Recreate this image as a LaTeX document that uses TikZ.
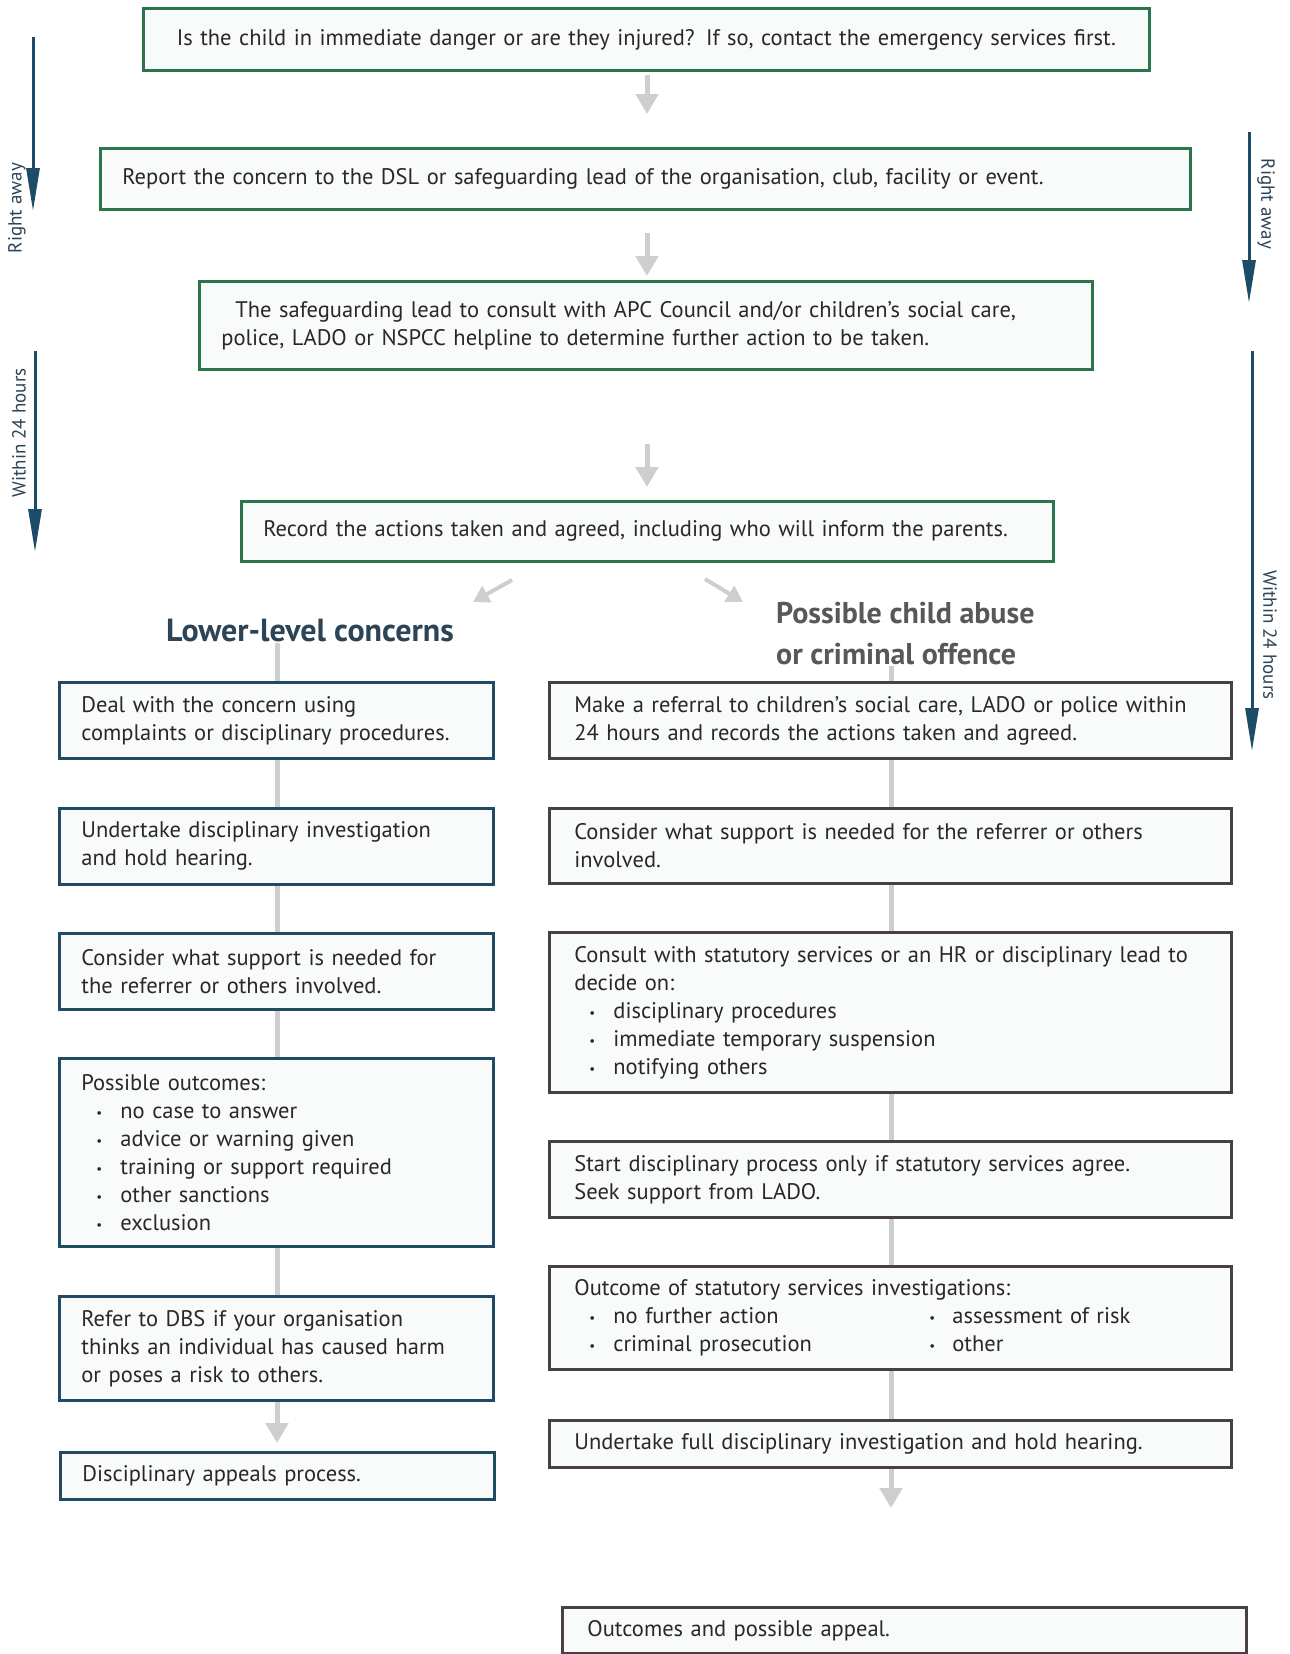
\documentclass[tikz,border=0pt]{standalone}
\usepackage{fontspec}
\setmainfont{PT Sans}
\usetikzlibrary{arrows.meta}
\definecolor{boxgreen}{RGB}{42,118,74}
\definecolor{boxblue}{RGB}{33,74,100}
\definecolor{boxright}{RGB}{72,64,70}
\definecolor{txt}{RGB}{40,40,40}
\definecolor{arrgray}{RGB}{205,207,207}
\definecolor{sideblue}{RGB}{28,76,104}
\definecolor{headblue}{RGB}{44,68,86}
\definecolor{headgray}{RGB}{88,88,88}
\definecolor{boxfill}{RGB}{249,250,250}
\newcommand{\bulglyph}{{\fontsize{13}{13}\selectfont\raisebox{1pt}{•}}}
\newcommand{\bulitem}[1]{\hspace*{15pt}\makebox[24pt][l]{\bulglyph}#1}
\begin{document}
\begin{tikzpicture}[x=1pt,y=-1pt,
  base/.style={draw, line width=2.8pt, fill=boxfill, text=txt,
    font=\fontsize{22.5}{28}\selectfont, align=left, anchor=north west,
    inner xsep=22pt, inner ysep=0pt},
  gbox/.style={base, draw=boxgreen},
  lbox/.style={base, draw=boxblue},
  rbox/.style={base, draw=boxright, inner xsep=25pt},
  grayline/.style={draw=arrgray, line width=5pt},
  grayarrow/.style={grayline, -{Triangle[width=22pt,length=20pt]}},
  sidearrow/.style={draw=sideblue, line width=3pt, -{Triangle[width=13pt,length=43pt]}},
  sidelabel/.style={text=headblue, font=\fontsize{19}{22}\selectfont, inner sep=0pt},
  headl/.style={font=\fontsize{32}{41}\selectfont\bfseries, inner sep=0pt},
  headr/.style={font=\fontsize{30}{41}\selectfont\bfseries, inner sep=0pt}
]
\useasboundingbox (0,0) rectangle (1290,1654);
\fill[white] (0,0) rectangle (1290,1654);

% column guides
\coordinate (colM) at (647,0);
\coordinate (colL) at (277,0);
\coordinate (colR) at (891,0);

% top green boxes
\node[gbox, align=center, minimum width=1006pt, minimum height=62pt, text width=962pt] (b1) at (142,7)
  {Is the child in immediate danger or are they injured? If so, contact the emergency services first.};
\node[gbox, minimum width=1090pt, minimum height=61pt, text width=1046pt] (b2) at (99,147)
  {Report the concern to the DSL or safeguarding lead of the organisation, club, facility or event.};
\node[gbox, minimum width=893pt, minimum height=88pt, text width=849pt] (b3) at (198,280)
  {\hspace*{14pt}The safeguarding lead to consult with APC Council and/or children’s social care,\\police, LADO or NSPCC helpline to determine further action to be taken.};
\node[gbox, minimum width=812pt, minimum height=60pt, text width=768pt] (b4) at (240,500)
  {Record the actions taken and agreed, including who will inform the parents.};

\draw[grayarrow, shorten <=3pt, shorten >=33pt] (b1.south -| colM) -- (b2.north -| colM);
\draw[grayarrow, shorten <=22pt, shorten >=4pt] (b2.south -| colM) -- (b3.north -| colM);
\draw[grayarrow, shorten <=73pt, shorten >=13pt] (b3.south -| colM) -- (b4.north -| colM);

% headings
\node[headl, text=headblue] (lhead) at (310,631) {Lower-level concerns};
\node[headr, text=headgray, align=left, anchor=west] (rhead) at (776,634) {Possible child abuse\\or criminal offence};

% diagonal arrows
\coordinate (dl1) at (512,580); \coordinate (dl2) at (473,602);
\coordinate (dr1) at (705,579); \coordinate (dr2) at (743,602);
\draw[grayarrow, line width=4pt, -{Triangle[width=18pt,length=16pt]}] (dl1) -- (dl2);
\draw[grayarrow, line width=4pt, -{Triangle[width=18pt,length=16pt]}] (dr1) -- (dr2);

% left column
\node[lbox, minimum width=434pt, minimum height=76pt, text width=390pt] (L1) at (58,681)
  {Deal with the concern using\\complaints or disciplinary procedures.};
\node[lbox, minimum width=434pt, minimum height=76pt, text width=390pt] (L2) at (58,807)
  {Undertake disciplinary investigation\\and hold hearing.};
\node[lbox, minimum width=434pt, minimum height=76pt, text width=390pt] (L3) at (58,932)
  {Consider what support is needed for\\the referrer or others involved.};
\node[lbox, minimum width=434pt, minimum height=188pt, text width=390pt] (L4) at (58,1057)
  {Possible outcomes:\\\bulitem{no case to answer}\\\bulitem{advice or warning given}\\\bulitem{training or support required}\\\bulitem{other sanctions}\\\bulitem{exclusion}};
\node[lbox, minimum width=434pt, minimum height=104pt, text width=390pt] (L5) at (58,1295)
  {Refer to DBS if your organisation\\thinks an individual has caused harm\\or poses a risk to others.};
\node[lbox, minimum width=434pt, minimum height=47pt, text width=390pt] (L6) at (59,1451)
  {Disciplinary appeals process.};

\draw[grayline] (lhead.south -| colL) -- (L1.north -| colL);
\draw[grayline] (L1.south -| colL) -- (L2.north -| colL);
\draw[grayline] (L2.south -| colL) -- (L3.north -| colL);
\draw[grayline] (L3.south -| colL) -- (L4.north -| colL);
\draw[grayline] (L4.south -| colL) -- (L5.north -| colL);
\draw[grayarrow, shorten >=8pt] (L5.south -| colL) -- (L6.north -| colL);

% right column
\node[rbox, minimum width=682pt, minimum height=76pt, text width=632pt] (R1) at (548,681)
  {Make a referral to children’s social care, LADO or police within\\24 hours and records the actions taken and agreed.};
\node[rbox, minimum width=682pt, minimum height=75pt, text width=632pt] (R2) at (548,807)
  {Consider what support is needed for the referrer or others\\involved.};
\node[rbox, minimum width=682pt, minimum height=160pt, text width=632pt] (R3) at (548,931)
  {Consult with statutory services or an HR or disciplinary lead to\\decide on:\\\bulitem{disciplinary procedures}\\\bulitem{immediate temporary suspension}\\\bulitem{notifying others}};
\node[rbox, minimum width=682pt, minimum height=76pt, text width=632pt] (R4) at (548,1140)
  {Start disciplinary process only if statutory services agree.\\Seek support from LADO.};
\node[rbox, minimum width=682pt, minimum height=103pt, text width=632pt] (R5) at (548,1265)
  {Outcome of statutory services investigations:\\
   \makebox[355pt][l]{\bulitem{no further action}}\makebox[23pt][l]{\bulglyph}assessment of risk\\
   \makebox[355pt][l]{\bulitem{criminal prosecution}}\makebox[23pt][l]{\bulglyph}other};
\node[rbox, minimum width=682pt, minimum height=47pt, text width=632pt] (R6) at (548,1419)
  {Undertake full disciplinary investigation and hold hearing.};
\node[rbox, minimum width=684pt, minimum height=46pt, text width=634pt] (R7) at (561,1606)
  {Outcomes and possible appeal.};

\draw[grayline] (rhead.south -| colR) -- (R1.north -| colR);
\draw[grayline] (R1.south -| colR) -- (R2.north -| colR);
\draw[grayline] (R2.south -| colR) -- (R3.north -| colR);
\draw[grayline] (R3.south -| colR) -- (R4.north -| colR);
\draw[grayline] (R4.south -| colR) -- (R5.north -| colR);
\draw[grayline] (R5.south -| colR) -- (R6.north -| colR);
\draw[grayarrow, shorten >=98pt] (R6.south -| colR) -- (R7.north -| colR);

% side time arrows
\coordinate (la1) at (33,37);   \coordinate (la2) at (33,211);
\coordinate (lb1) at (35,351);  \coordinate (lb2) at (35,552);
\coordinate (ra1) at (1249,132); \coordinate (ra2) at (1249,303);
\coordinate (rb1) at (1252,351); \coordinate (rb2) at (1252,751);
\draw[sidearrow] (la1) -- (la2);
\draw[sidearrow] (lb1) -- (lb2);
\draw[sidearrow] (ra1) -- (ra2);
\draw[sidearrow] (rb1) -- (rb2);
\node[sidelabel, rotate=90] (lal) at (17,208) {Right away};
\node[sidelabel, rotate=90] (lbl) at (19,433) {Within 24 hours};
\node[sidelabel, rotate=-90] (ral) at (1266,204) {Right away};
\node[sidelabel, rotate=-90] (rbl) at (1270,635) {Within 24 hours};
\end{tikzpicture}
\end{document}
